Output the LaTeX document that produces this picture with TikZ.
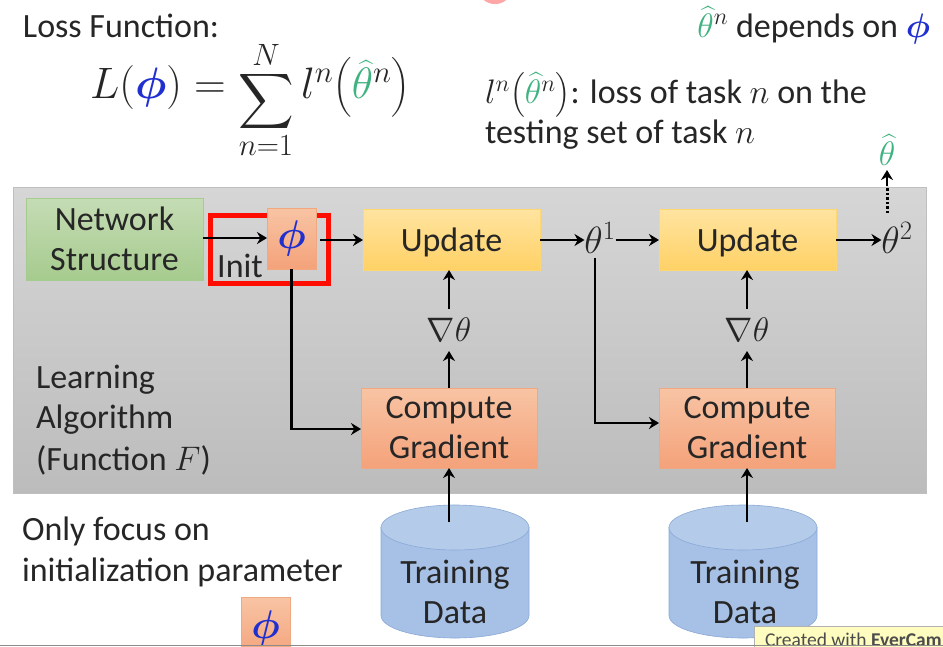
\RequirePackage{fix-cm}
\documentclass[tikz,border=0pt]{standalone}
\usepackage{fontspec}
\usepackage{amsmath}
\usepackage{graphicx}
\setmainfont{Carlito}
\usetikzlibrary{arrows.meta}
\definecolor{phiblue}{HTML}{1F2FD0}
\definecolor{hatgreen}{HTML}{3FB27F}
\definecolor{txt}{HTML}{262626}
\definecolor{greent}{HTML}{C5DCB5}
\definecolor{greenb}{HTML}{A6CB8E}
\definecolor{yelline}{HTML}{FFD770}
\definecolor{yelt}{HTML}{FFE4A0}
\definecolor{yelb}{HTML}{FFD166}
\definecolor{orline}{HTML}{F0A880}
\definecolor{ort}{HTML}{F8C4A4}
\definecolor{orb}{HTML}{F4A27A}
\definecolor{cylline}{HTML}{8AA9D6}
\definecolor{cylbody}{HTML}{A6C0E6}
\definecolor{cylend}{HTML}{B4CBEA}
\definecolor{panelt}{HTML}{D6D6D6}
\definecolor{panelb}{HTML}{BCBCBC}
\newcommand{\hth}{\textcolor{hatgreen}{\widehat{\theta}}}
\newcommand{\bphi}{\textcolor{phiblue}{\boldsymbol{\phi}}}
\newcommand{\lowertext}[1]{\raisebox{-3pt}[\height][\depth]{#1}}
\tikzset{
  x=1pt,y=-1pt,
  every node/.style={font=\fontsize{34}{40}\selectfont,text=txt,inner sep=0pt,outer sep=0pt},
  greenbox/.style={draw=greenb,line width=0.8pt,top color=greent,bottom color=greenb,align=center},
  yellowbox/.style={draw=yelline,line width=0.8pt,top color=yelt,bottom color=yelb,align=center},
  orangebox/.style={draw=orline,line width=0.8pt,top color=ort,bottom color=orb,align=center},
  conn/.style={draw=black,line width=2.4pt,-{Stealth[length=10pt,width=12pt]}},
  lefttext/.style={anchor=west,align=left},
  bigphi/.style={font=\fontsize{40}{40}\selectfont},
  thetanode/.style={font=\fontsize{38}{40}\selectfont},
  dbbody/.style={fill=cylbody,draw=cylline,line width=0.6pt},
  dbtop/.style={fill=cylend,draw=cylline,line width=0.6pt},
}
\begin{document}
\begin{tikzpicture}
\useasboundingbox (0,0) rectangle (943,646);
\fill[white] (0,0) rectangle (943,646);
\begin{scope}
\clip (0,0) rectangle (943,646);
\fill[red!35] (495,-8) ellipse (15 and 12);
\end{scope}
% panel
\node[draw=black!25,line width=0.6pt,top color=panelt,bottom color=panelb,minimum width=913pt,minimum height=306pt] (panel) at (469.5,340) {};
% top texts
\node[lefttext] (loss) at (23,26) {Loss Function:};
\node (formula) at (250,100) {\fontsize{44}{48}\selectfont $L(\bphi)=\mathop{\raisebox{-20pt}{\scalebox{1.55}{$\displaystyle\sum$}}}\limits_{n=1}^{N} l^{n}\bigl(\hth^{n}\bigr)$};
\node[anchor=east] (dep) at (930,25) {$\hth^{n}$ depends on $\bphi$};
\node[anchor=north west,align=left] (ltxt) at (485,73) {$l^{n}\bigl(\hth^{n}\bigr)$: loss of task $n$ on the\\testing set of task $n$};
% boxes
\node[greenbox,minimum width=177pt,minimum height=82pt] (net) at (114.5,239) {Network\\Structure};
\node[yellowbox,minimum width=177pt,minimum height=61pt] (up1) at (451.5,239.5) {\lowertext{Update}};
\node[yellowbox,minimum width=177pt,minimum height=61pt] (up2) at (747.5,239.5) {\lowertext{Update}};
\node[orangebox,minimum width=176pt,minimum height=80pt] (cg1) at (449,428) {Compute\\Gradient};
\node[orangebox,minimum width=176pt,minimum height=80pt] (cg2) at (747,428) {Compute\\Gradient};
\node[minimum height=42pt] (g1) at (449,330) {$\nabla\theta$};
\node[minimum height=42pt] (g2) at (747,330) {$\nabla\theta$};
\node[thetanode] (t1) at (600,238) {$\theta^{1}$};
\node[thetanode] (t2) at (897,238) {$\theta^{2}$};
\node[minimum height=40pt] (that) at (887,150) {$\hth$};
\node (init) at (240,266) {Init};
% red frame
\draw[red!90!orange,line width=5pt] (210.5,215.5) rectangle (328.5,283.5);
\node[orangebox,minimum width=49pt,minimum height=61pt,bigphi] (phi) at (291.5,238.5) {$\bphi$};
% left labels
\node[lefttext] (learn) at (36,380) {Learning};
\node[lefttext] (algo) at (36,420) {Algorithm};
\node[lefttext] (func) at (36,460) {(Function $F$)};
\node[lefttext] (focus1) at (22,531) {Only focus on};
\node[lefttext] (focus2) at (22,572) {initialization parameter};
% cylinders
\path[dbbody] (381,527.5) -- (381,615.5) arc[start angle=180,end angle=0,x radius=74,y radius=22.5] -- (529,527.5) -- cycle;
\path[dbtop] (455,527.5) ellipse (74 and 22.5);
\path[dbbody] (669,527.5) -- (669,615.5) arc[start angle=180,end angle=0,x radius=74,y radius=22.5] -- (817,527.5) -- cycle;
\path[dbtop] (743,527.5) ellipse (74 and 22.5);
\node[align=center] (db1t) at (455,592) {Training\\Data};
\node[align=center] (db2t) at (745,592) {Training\\Data};
\coordinate (db1s) at (449,522);
\coordinate (db2s) at (747,522);
% small phi
\begin{scope}
\clip (0,0) rectangle (943,646);
\node[orangebox,minimum width=49pt,minimum height=61pt,bigphi] (phis) at (265.5,628) {$\bphi$};
\end{scope}
% connectors
\draw[conn] (net.east |- 0,238) -- (phi.west |- 0,238);
\coordinate (phio) at (320,240);
\draw[conn] (phio) -- (up1.west |- 0,240);
\draw[conn] (up1.east |- 0,240) -- (t1.west |- 0,240);
\draw[conn] (t1.east |- 0,240) -- (up2.west |- 0,240);
\draw[conn] (up2.east |- 0,240) -- (t2.west |- 0,240);
\draw[conn] (g1.north) -- (up1.south -| g1);
\draw[conn] (g2.north) -- (up2.south -| g2);
\draw[conn] (cg1.north) -- (g1.south);
\draw[conn] (cg2.north) -- (g2.south);
\draw[conn] (db1s) -- (cg1.south);
\draw[conn] (db2s) -- (cg2.south);
\draw[conn] (phi.south) |- (cg1.west |- 0,429);
\coordinate (t1d) at (595,258);
\draw[conn] (t1d) |- (cg2.west |- 0,423);
\coordinate (t2up) at (887,213);
\coordinate (t2up2) at (887,186);
\draw[line width=3pt,dash pattern=on 2.5pt off 2pt] (t2up) -- (t2up2);
\draw[conn] (t2up2) -- (that.south);
% watermark tag
\begin{scope}
\clip (0,0) rectangle (943,646);
\fill[yellow!25!white,draw=black!30] (754,626) rectangle (950,650);
\node[anchor=west,font=\fontsize{19.5}{20}\selectfont,text=black!70] (tag) at (765,640) {Created with \textbf{EverCam}};
\end{scope}
\draw[black!45,line width=1pt] (0,645.5) -- (943,645.5);
\end{tikzpicture}
\end{document}
